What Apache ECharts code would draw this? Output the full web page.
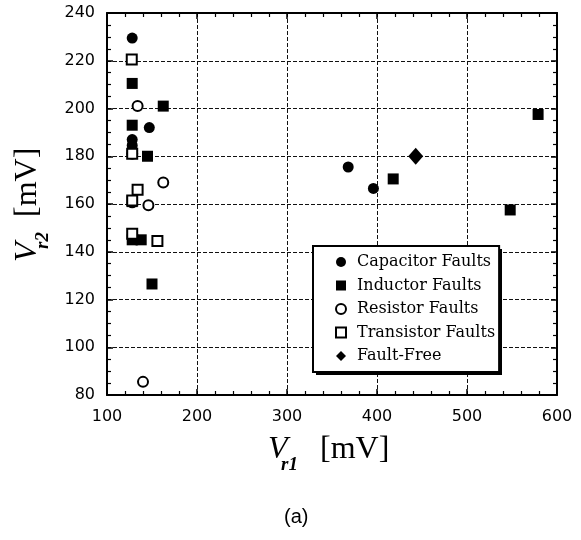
<!DOCTYPE html>
<html>
<head>
<meta charset="utf-8">
<script src="https://cdn.jsdelivr.net/npm/echarts@6/dist/echarts.min.js"></script>
<style>
  html, body { margin: 0; padding: 0; background: #fff; }
  #chart { width: 581px; height: 540px; }
</style>
</head>
<body>
<div id="chart"></div>
<script>
// 数据 (mV)
const seriesNames = ['Capacitor Faults', 'Inductor Faults', 'Resistor Faults', 'Transistor Faults', 'Fault-Free'];
const capacitorFaults = [[128, 229.5], [147, 192], [128, 187], [128, 184.5], [128, 182.5], [128, 160.5], [133, 145], [368, 175.5], [396, 166.5]];
const inductorFaults = [[128, 210.5], [162.5, 201], [128, 193], [145, 180], [128, 161], [128, 145], [138, 145], [150, 126.5], [418, 170.5], [548, 157.5], [579, 197.5]];
const resistorFaults = [[134, 201], [128, 181], [162.5, 169], [146, 159.5], [140, 85.5]];
const transistorFaults = [[127.5, 220.5], [128, 181], [134, 166], [128, 147.5], [128, 161.5], [156, 144.5]];
const faultFree = [[443, 180]];

const xMin = 100, xMax = 600, xStep = 100;
const yMin = 80, yMax = 240, yStep = 20;

let chart = echarts.init(document.getElementById('chart'));

const labelFont = { color: '#000', fontSize: 16, fontFamily: 'DejaVu Sans' };

// 坐标轴公共样式
function axisBase(show) {
    return {
        axisLine: { show: true, onZero: false, lineStyle: { color: '#000', width: 2 } },
        axisTick: { show: true, inside: true, length: 6, lineStyle: { color: '#000', width: 1.5 } },
        minorTick: { show: true, length: 4, lineStyle: { color: '#000', width: 1.2 } },
        axisLabel: Object.assign({ show: show }, labelFont),
        splitLine: { show: show, lineStyle: { color: '#111', width: 1, type: [4, 2] } },
        minorSplitLine: { show: false }
    };
}

function xAxisCfg(pos, show) {
    let a = Object.assign({ type: 'value', position: pos, min: xMin, max: xMax, interval: xStep, gridIndex: 0 }, axisBase(show));
    a.minorTick.splitNumber = 5;
    a.axisLabel.margin = 14;
    return a;
}
function yAxisCfg(pos, show) {
    let a = Object.assign({ type: 'value', position: pos, min: yMin, max: yMax, interval: yStep, gridIndex: 0 }, axisBase(show));
    a.minorTick.splitNumber = 4;
    a.axisLabel.margin = 12;
    return a;
}

const filled = { color: '#000', opacity: 1 };
const hollow = { color: '#000', borderColor: '#000', borderWidth: 1.6, opacity: 1 };

let option = {
    animation: false,
    backgroundColor: '#fff',
    grid: { left: 107, right: 24, top: 13, bottom: 145, containLabel: false },
    xAxis: [xAxisCfg('bottom', true), xAxisCfg('top', false)],
    yAxis: [yAxisCfg('left', true), yAxisCfg('right', false)],
    legend: {
        orient: 'vertical',
        left: 313,
        top: 246,
        z: 10,
        data: seriesNames,
        itemWidth: 10,
        itemHeight: 10,
        itemGap: 7.5,
        padding: [8, 4, 8, 22],
        backgroundColor: '#fff',
        borderColor: '#000',
        borderWidth: 2,
        borderRadius: 0,
        textStyle: { color: '#000', fontSize: 16, lineHeight: 16, fontFamily: 'DejaVu Serif', padding: [0, 0, 0, 6] }
    },
    series: [
        { name: seriesNames[0], type: 'scatter', symbol: 'circle', symbolSize: 11, itemStyle: filled, data: capacitorFaults },
        { name: seriesNames[1], type: 'scatter', symbol: 'rect', symbolSize: 11, itemStyle: filled, data: inductorFaults },
        { name: seriesNames[2], type: 'scatter', symbol: 'emptyCircle', symbolSize: 10, itemStyle: hollow, data: resistorFaults },
        { name: seriesNames[3], type: 'scatter', symbol: 'emptyRect', symbolSize: 10, itemStyle: hollow, data: transistorFaults },
        { name: seriesNames[4], type: 'scatter', symbol: 'diamond', symbolSize: [15, 17], itemStyle: filled, data: faultFree }
    ],
    graphic: [
        // 图例阴影
        {
            type: 'rect', z: 5, shape: { x: 316, y: 249, width: 186, height: 126 },
            style: { fill: '#000' }
        },
        // x 轴标题
        {
            type: 'group', left: 268, top: 434,
            children: [
                { type: 'text', x: 0, y: 0, style: { text: 'V', font: 'italic 32px "Liberation Serif"', fill: '#000' } },
                { type: 'text', x: 13, y: 22, style: { text: 'r1', font: 'italic bold 19px "Liberation Serif"', fill: '#000' } },
                { type: 'text', x: 52, y: 0, style: { text: '[mV]', font: '32px "Liberation Serif"', fill: '#000' } }
            ]
        },
        // y 轴标题
        {
            type: 'group', x: 12, y: 262, rotation: Math.PI / 2,
            children: [
                { type: 'text', x: 0, y: 0, style: { text: 'V', font: 'italic 32px "Liberation Serif"', fill: '#000' } },
                { type: 'text', x: 13, y: 22, style: { text: 'r2', font: 'italic bold 19px "Liberation Serif"', fill: '#000' } },
                { type: 'text', x: 45, y: 0, style: { text: '[mV]', font: '32px "Liberation Serif"', fill: '#000' } }
            ]
        },
        {
            type: 'text', left: 284, top: 507,
            style: { text: '(a)', font: '20px "Liberation Sans Narrow", "Liberation Sans"', fill: '#000' }
        }
    ]
};
chart.setOption(option);
</script>
</body>
</html>
